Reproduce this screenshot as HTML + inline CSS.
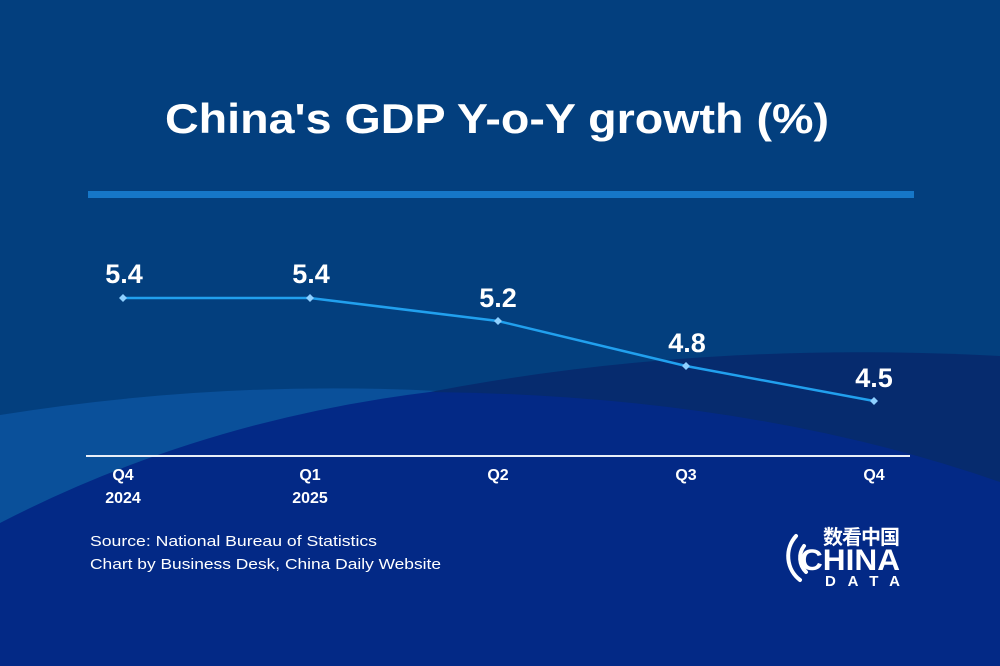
<!DOCTYPE html>
<html><head><meta charset="utf-8"><style>html,body{margin:0;padding:0;background:#033f7e}svg{display:block}</style></head>
<body>
<svg width="1000" height="666" viewBox="0 0 1000 666" xmlns="http://www.w3.org/2000/svg" font-family="Liberation Sans, sans-serif">
<rect width="1000" height="666" fill="#033f7e"/>
<!-- light band -->
<path d="M0,415 Q250,375 500,395 Q750,410 1000,470 L1000,666 L0,666 Z" fill="#0a509a"/>
<!-- dark navy -->
<path d="M430,392 Q700,340 1000,356 L1000,666 L430,666 Z" fill="#062b6e"/>
<!-- royal blue -->
<path d="M0,523 Q200,420 430,392 Q750,395 1000,482 L1000,666 L0,666 Z" fill="#032986"/>
<text x="497" y="133" text-anchor="middle" fill="#fff" font-weight="bold" font-size="42" textLength="664" lengthAdjust="spacingAndGlyphs">China's GDP Y-o-Y growth (%)</text>
<rect x="88" y="191" width="826" height="7" fill="#1677c8"/>
<polyline points="123,298 310,298 498,321 686,366 874,401" fill="none" stroke="#21a0ee" stroke-width="2.5"/>
<g fill="#8fd0ff">
<path d="M123,294 l4,4 -4,4 -4,-4z"/><path d="M310,294 l4,4 -4,4 -4,-4z"/><path d="M498,317 l4,4 -4,4 -4,-4z"/><path d="M686,362 l4,4 -4,4 -4,-4z"/><path d="M874,397 l4,4 -4,4 -4,-4z"/>
</g>
<g fill="#fff" font-weight="bold" font-size="27" text-anchor="middle">
<text x="124" y="283">5.4</text><text x="311" y="283">5.4</text><text x="498" y="307">5.2</text><text x="687" y="352">4.8</text><text x="874" y="387">4.5</text>
</g>
<rect x="86" y="455" width="824" height="2" fill="#e8eef8"/>
<g fill="#fff" font-weight="bold" font-size="16" text-anchor="middle">
<text x="123" y="480">Q4</text><text x="123" y="503">2024</text>
<text x="310" y="480">Q1</text><text x="310" y="503">2025</text>
<text x="498" y="480">Q2</text><text x="686" y="480">Q3</text><text x="874" y="480">Q4</text>
</g>
<g fill="#fff" font-size="15">
<text x="90" y="546" textLength="287" lengthAdjust="spacingAndGlyphs">Source: National Bureau of Statistics</text>
<text x="90" y="569" textLength="351" lengthAdjust="spacingAndGlyphs">Chart by Business Desk, China Daily Website</text>
</g>
<g fill="#fff">
<text x="823" y="544" font-size="20" font-weight="bold" font-family="Noto Sans CJK SC, sans-serif" textLength="77">数看中国</text>
<text x="800" y="570" font-size="30" font-weight="bold" textLength="100" lengthAdjust="spacingAndGlyphs">CHINA</text>
<text x="825" y="586" font-size="15" font-weight="bold" textLength="75">DATA</text>
<path d="M796,536 A30,30 0 0 0 800,580" stroke="#fff" stroke-width="4" fill="none" stroke-linecap="round"/>
<path d="M804,546 A20,20 0 0 0 806,572" stroke="#fff" stroke-width="4" fill="none" stroke-linecap="round"/>
</g>
</svg>
</body></html>
